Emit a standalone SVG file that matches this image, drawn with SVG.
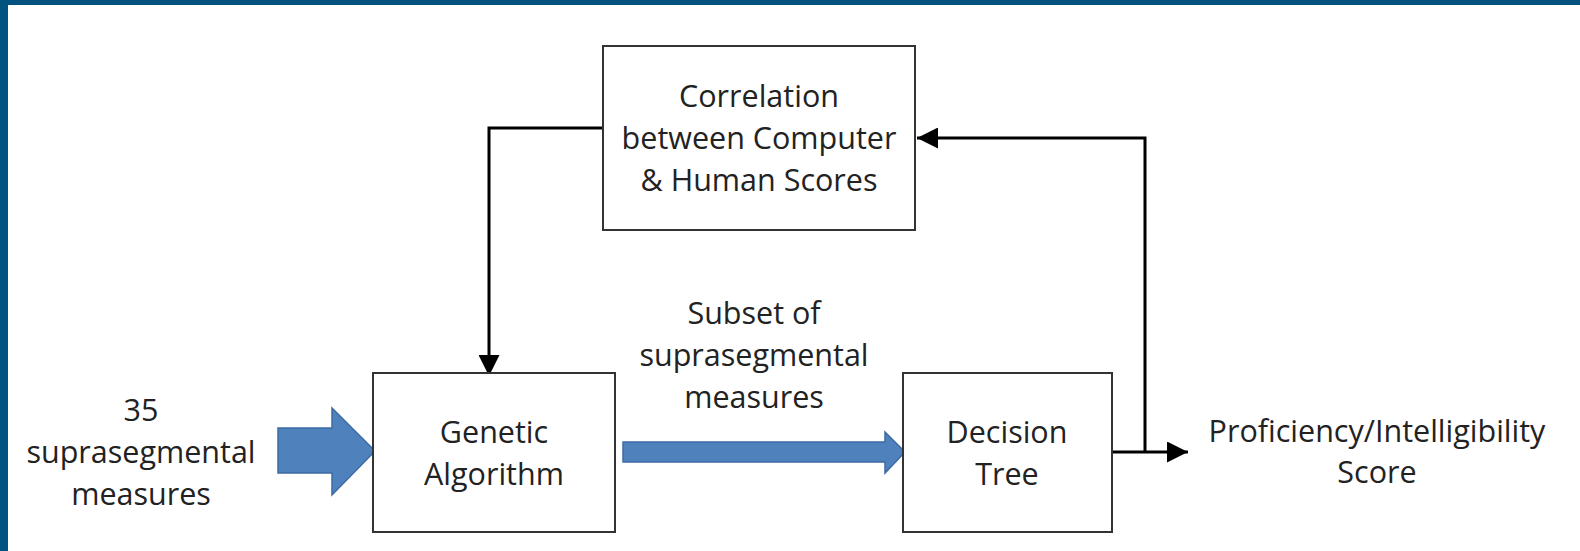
<svg xmlns="http://www.w3.org/2000/svg" width="1580" height="551" viewBox="0 0 1580 551">
<defs>
<style>
.box{fill:#fff;stroke:#333;stroke-width:2}
.lbl{font-family:"Open Sans","Liberation Sans",sans-serif;font-size:30.5px;fill:#222;text-anchor:middle}
.conn{fill:none;stroke:#000;stroke-width:3}
.blue{fill:#4f81bd;stroke:#3d6ba3;stroke-width:1.5}
</style>
<marker id="ah" viewBox="0 0 10 10" refX="10" refY="5" markerWidth="7" markerHeight="7" markerUnits="strokeWidth" orient="auto">
<path d="M0,0 L10,5 L0,10 Z" fill="#000"/>
</marker>
</defs>
<rect x="0" y="0" width="1580" height="551" fill="#fff"/>
<rect x="0" y="0" width="1580" height="5" fill="#02527f"/>
<rect x="0" y="0" width="8" height="551" fill="#02527f"/>

<g id="connectors">
<path class="conn" d="M603,128 H489 V376" marker-end="url(#ah)"/>
<path class="conn" d="M1145,452 V138 H917" marker-end="url(#ah)"/>
<path class="conn" d="M1112,452 H1188" marker-end="url(#ah)"/>
<polygon class="blue" points="278,428 332,428 332,408 375,451 332,495 332,473 278,473"/>
<polygon class="blue" points="623,442 885,442 885,432 905,452 885,473 885,462 623,462"/>
</g>

<g id="correlation">
<rect class="box" x="603" y="46" width="312" height="184"/>
<text class="lbl" x="759" y="107">Correlation</text>
<text class="lbl" x="759" y="149">between Computer</text>
<text class="lbl" x="759" y="191">&amp; Human Scores</text>
</g>

<g id="genetic">
<rect class="box" x="373" y="373" width="242" height="159"/>
<text class="lbl" x="494" y="443">Genetic</text>
<text class="lbl" x="494" y="485">Algorithm</text>
</g>

<g id="decision">
<rect class="box" x="903" y="373" width="209" height="159"/>
<text class="lbl" x="1007" y="443">Decision</text>
<text class="lbl" x="1007" y="485">Tree</text>
</g>

<g id="input">
<text class="lbl" x="141" y="421">35</text>
<text class="lbl" x="141" y="463">suprasegmental</text>
<text class="lbl" x="141" y="505">measures</text>
</g>

<g id="subset">
<text class="lbl" x="754" y="324">Subset of</text>
<text class="lbl" x="754" y="366">suprasegmental</text>
<text class="lbl" x="754" y="408">measures</text>
</g>

<g id="output">
<text class="lbl" x="1377" y="442">Proficiency/Intelligibility</text>
<text class="lbl" x="1377" y="483">Score</text>
</g>
</svg>
